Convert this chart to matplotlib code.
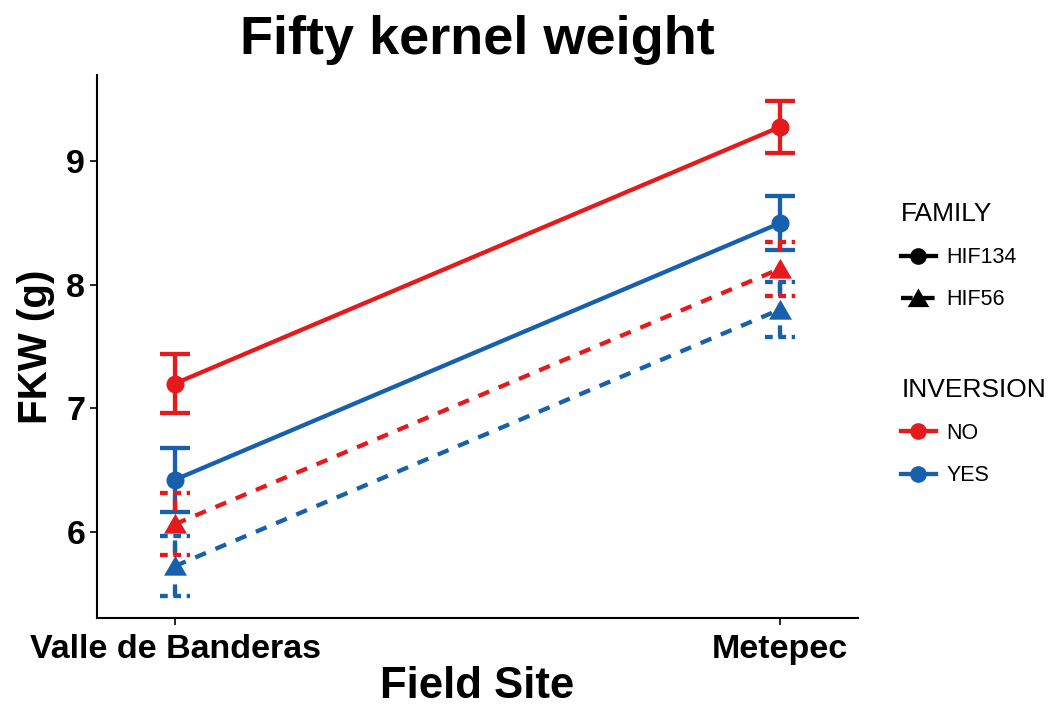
import matplotlib
matplotlib.use("Agg")
import matplotlib.pyplot as plt
from matplotlib.lines import Line2D

plt.rcParams["font.family"] = ["Liberation Sans", "DejaVu Sans"]

sites = ["Valle de Banderas", "Metepec"]
families = ["HIF134", "HIF56"]
inversions = ["NO", "YES"]

# mean FKW (g) and half-width of error bar, per (family, inversion), per site
fkw = {
    ("HIF134", "NO"): [7.20, 9.28],
    ("HIF134", "YES"): [6.42, 8.50],
    ("HIF56", "NO"): [6.06, 8.13],
    ("HIF56", "YES"): [5.72, 7.80],
}
err = {
    ("HIF134", "NO"): [0.24, 0.21],
    ("HIF134", "YES"): [0.26, 0.22],
    ("HIF56", "NO"): [0.25, 0.22],
    ("HIF56", "YES"): [0.24, 0.22],
}

C_INV = {"NO": "#E41A1C", "YES": "#1660AD"}
TRI = [(-1, -0.8), (1, -0.8), (0, 0.93)]
MK = {"HIF134": "o", "HIF56": TRI}
MS = {"HIF134": 13, "HIF56": 16.5}
LS = {"HIF134": "-", "HIF56": (0, (2.7, 2.4))}
LW = 3.1

fig = plt.figure(figsize=(10.54, 7.09), dpi=100)
ax = fig.add_axes([0.092, 0.128, 0.722, 0.766])

x = [1, 2]
cap = 0.025
for fam in families:
    for inv in inversions:
        y = fkw[(fam, inv)]
        e = err[(fam, inv)]
        c = C_INV[inv]
        ls = LS[fam]
        for xi, yi, ei in zip(x, y, e):
            ax.plot([xi, xi], [yi - ei, yi + ei], color=c, lw=LW, ls=ls,
                    solid_capstyle="butt", dash_capstyle="butt", zorder=2)
            for yc in (yi - ei, yi + ei):
                ax.plot([xi - cap, xi + cap], [yc, yc], color=c, lw=LW,
                        ls=(0, (1.8, 1.3)) if fam == "HIF56" else "-",
                        solid_capstyle="butt", dash_capstyle="butt", zorder=2)
        ax.plot(x, y, color=c, lw=LW, ls=ls, dash_capstyle="butt", zorder=3)
        ax.plot(x, y, color=c, ls="none", marker=MK[fam], ms=MS[fam], mew=0, zorder=4)

ax.set_xlim(0.871, 2.129)
ax.set_ylim(5.297, 9.70)
ax.set_xticks(x)
ax.set_xticklabels(sites)
ax.set_yticks([6, 7, 8, 9])
for s in ("top", "right"):
    ax.spines[s].set_visible(False)
for s in ("left", "bottom"):
    ax.spines[s].set_linewidth(1.5)
ax.tick_params(axis="both", labelsize=24.5, width=1.2, length=5, colors="black")
ax.tick_params(axis="x", pad=6)
for t in ax.get_xticklabels() + ax.get_yticklabels():
    t.set_fontweight("bold")
ax.set_xlabel("Field Site", fontsize=31.5, fontweight="bold", labelpad=1)
ax.set_ylabel("FKW (g)", fontsize=29, fontweight="bold", labelpad=8)
ax.set_title("Fifty kernel weight", fontsize=39, fontweight="bold", pad=15)

h_fam = [Line2D([], [], color="black", lw=LW, ls=LS[f], marker=MK[f], ms=MS[f] - 1, mew=0)
         for f in families]
h_inv = [Line2D([], [], color=C_INV[i], lw=LW, marker="o", ms=12, mew=0)
         for i in inversions]
common = dict(loc="upper left", frameon=False, fontsize=15.5, title_fontsize=19,
              handlelength=1.6, labelspacing=0.98, handletextpad=0.5,
              borderpad=0, borderaxespad=0)
leg1 = fig.legend(h_fam, families, title="FAMILY", bbox_to_anchor=(0.855, 0.715), **common)
leg1._legend_box.align = "left"
leg2 = fig.legend(h_inv, inversions, title="INVERSION", bbox_to_anchor=(0.855, 0.467), **common)
leg2._legend_box.align = "left"

fig.savefig("out.png", dpi=100)
